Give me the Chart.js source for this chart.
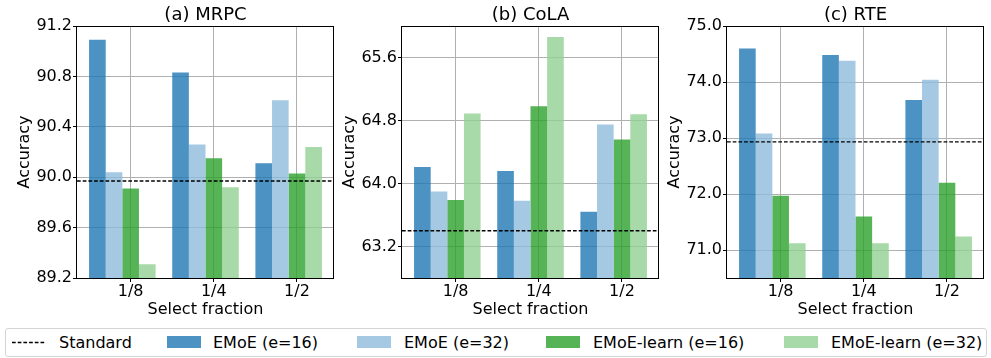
<!DOCTYPE html>
<html>
<head>
<meta charset="utf-8">
<script src="https://cdn.jsdelivr.net/npm/chart.js@4.4.1/dist/chart.umd.min.js"></script>
<style>
  html, body { margin: 0; padding: 0; background: #fff; }
  body { width: 991px; height: 358px; overflow: hidden; position: relative; font-family: "DejaVu Sans", sans-serif; }
  canvas { position: absolute; top: 0; }
  #legendBox { position: absolute; left: 5px; top: 328px; width: 982px; height: 29px; box-sizing: border-box;
               border: 1px solid #d4d4d4; border-radius: 3px; background: #fff; }
  .lt { position: absolute; top: 332px; height: 22px; line-height: 22px; font-size: 16px; color: #000; white-space: nowrap; }
  .lp { position: absolute; top: 336px; width: 34px; height: 12px; }
</style>
</head>
<body>
<canvas id="c0" width="335" height="322" style="left:0px"></canvas>
<canvas id="c1" width="335" height="322" style="left:325px"></canvas>
<canvas id="c2" width="335" height="322" style="left:650px"></canvas>
<div id="legendBox"></div>
<svg style="position:absolute;left:12px;top:338px" width="34" height="10">
  <line x1="0" y1="4.5" x2="34" y2="4.5" stroke="#000" stroke-width="1.3" stroke-dasharray="3.7,2"/>
</svg>
<script>
// ---------- data ----------
const categories = ['1/8', '1/4', '1/2'];
const seriesNames = ['EMoE (e=16)', 'EMoE (e=32)', 'EMoE-learn (e=16)', 'EMoE-learn (e=32)'];
const standardName = 'Standard';

const titles = ['(a) MRPC', '(b) CoLA', '(c) RTE'];

// MRPC
const mrpcE16 = [91.09, 90.83, 90.11];
const mrpcE32 = [90.04, 90.26, 90.61];
const mrpcL16 = [89.91, 90.15, 90.03];
const mrpcL32 = [89.31, 89.92, 90.24];
const mrpcStd = 89.97;
const mrpcTicks = [89.2, 89.6, 90.0, 90.4, 90.8, 91.2];
const mrpcRange = [89.2, 91.2];

// CoLA
const colaE16 = [64.21, 64.16, 63.64];
const colaE32 = [63.90, 63.78, 64.75];
const colaL16 = [63.79, 64.98, 64.56];
const colaL32 = [64.89, 65.86, 64.88];
const colaStd = 63.40;
const colaTicks = [63.2, 64.0, 64.8, 65.6];
const colaRange = [62.8, 66.0];

// RTE
const rteE16 = [74.60, 74.48, 73.68];
const rteE32 = [73.08, 74.38, 74.04];
const rteL16 = [71.97, 71.60, 72.20];
const rteL32 = [71.12, 71.12, 71.24];
const rteStd = 72.93;
const rteTicks = [71.0, 72.0, 73.0, 74.0, 75.0];
const rteRange = [70.5, 75.0];

// ---------- style ----------
const colors = ['rgba(31,119,180,0.8)', 'rgba(143,187,219,0.8)', 'rgba(44,160,44,0.8)', 'rgba(146,208,146,0.8)'];
const X_MIN = -0.545, X_MAX = 2.545;   // axis limits (category index units)
const TICK_SHIFT = 0.1;                 // tick sits on the third bar of each group
const FONT = 16;
const TITLE_FONT = 18;

Chart.defaults.font.family = '"DejaVu Sans", sans-serif';
Chart.defaults.font.size = FONT;
Chart.defaults.color = '#000';

const framePlugin = {
  id: 'frame',
  afterDatasetsDraw(chart) {
    const {ctx, chartArea: a} = chart;
    ctx.save();
    ctx.strokeStyle = '#000';
    ctx.lineWidth = 1;
    ctx.strokeRect(Math.round(a.left) - 0.5, Math.round(a.top) + 0.5, Math.round(a.right - a.left), Math.round(a.bottom - a.top));
    ctx.restore();
  }
};

function makeChart(id, title, series, std, range, yTicks) {
  const datasets = [{
    type: 'line',
    label: standardName,
    data: [{x: X_MIN, y: std}, {x: X_MAX, y: std}],
    borderColor: '#000',
    borderWidth: 1.3,
    borderDash: [3.7, 2],
    pointRadius: 0,
    order: -1
  }];
  series.forEach((vals, k) => {
    datasets.push({
      type: 'bar',
      label: seriesNames[k],
      data: vals.map((v, i) => ({x: i, y: v})),
      backgroundColor: colors[k],
      borderWidth: 0,
      categoryPercentage: 0.8,
      barPercentage: 1.0,
      order: 0
    });
  });
  new Chart(document.getElementById(id), {
    type: 'bar',
    data: {datasets},
    plugins: [framePlugin],
    options: {
      responsive: false,
      animation: false,
      devicePixelRatio: 1,
      layout: {padding: {left: 0, right: 1, top: 0, bottom: 0}},
      plugins: {
        legend: {display: false},
        tooltip: {enabled: false},
        title: {display: true, fullSize: false, text: title, color: '#000', font: {size: TITLE_FONT, weight: 'normal'}, padding: {top: 4.4, bottom: 0}}
      },
      scales: {
        x: {
          type: 'linear', position: 'bottom', min: X_MIN, max: X_MAX, offset: false,
          afterBuildTicks: a => { a.ticks = categories.map((c, i) => ({value: i + TICK_SHIFT})); },
          afterFit: a => { a.height = 44; },
          ticks: {callback: (v, i) => categories[i], color: '#000', padding: 0, maxRotation: 0, autoSkip: false, font: {size: FONT}},
          grid: {offset: false, color: '#b0b0b0', lineWidth: 1, tickLength: 4, tickColor: '#000'},
          border: {display: false},
          title: {display: true, text: 'Select fraction', color: '#000', font: {size: FONT}, padding: {top: 0, bottom: 2.4}}
        },
        y: {
          type: 'linear', position: 'left', min: range[0], max: range[1],
          afterBuildTicks: a => { a.ticks = yTicks.map(v => ({value: v})); },
          afterFit: a => { a.width = 77; },
          ticks: {callback: v => Number(v).toFixed(1), color: '#000', padding: 1, font: {size: FONT}},
          grid: {color: '#b0b0b0', lineWidth: 1, tickLength: 4, tickColor: '#000'},
          border: {display: false},
          title: {display: true, text: 'Accuracy', color: '#000', font: {size: FONT}, padding: {top: 15, bottom: 0}}
        }
      }
    }
  });
}

makeChart('c0', titles[0], [mrpcE16, mrpcE32, mrpcL16, mrpcL32], mrpcStd, mrpcRange, mrpcTicks);
makeChart('c1', titles[1], [colaE16, colaE32, colaL16, colaL32], colaStd, colaRange, colaTicks);
makeChart('c2', titles[2], [rteE16, rteE32, rteL16, rteL32], rteStd, rteRange, rteTicks);

// ---------- legend ----------
const legendTextLeft = [59, 213, 404, 593, 831];
const legendPatchLeft = [167, 357, 546, 784];
const labels = [standardName].concat(seriesNames);
labels.forEach((t, i) => {
  const d = document.createElement('div');
  d.className = 'lt';
  d.style.left = legendTextLeft[i] + 'px';
  d.textContent = t;
  document.body.appendChild(d);
});
seriesNames.forEach((t, k) => {
  const p = document.createElement('div');
  p.className = 'lp';
  p.style.left = legendPatchLeft[k] + 'px';
  p.style.background = colors[k];
  document.body.appendChild(p);
});
</script>
</body>
</html>
